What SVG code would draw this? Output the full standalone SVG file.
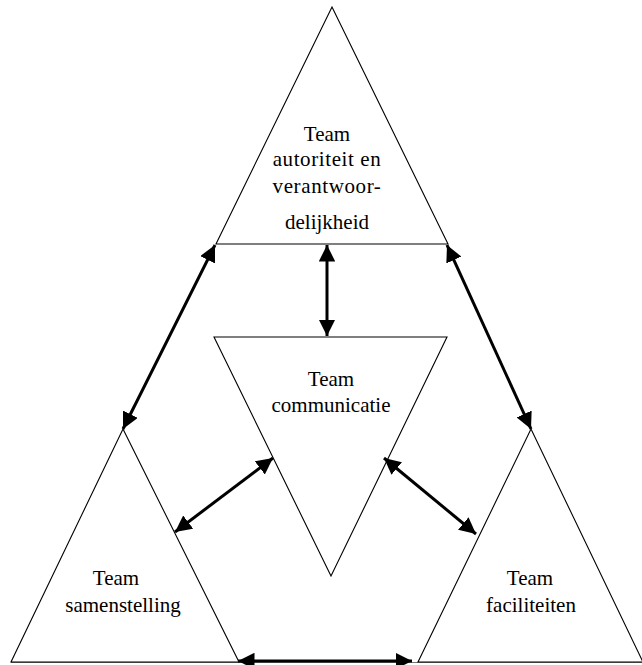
<svg xmlns="http://www.w3.org/2000/svg" width="642" height="665" viewBox="0 0 642 665">
  <style>
    .tri { fill: none; stroke: #000; stroke-width: 1.1; }
    .base { fill: none; stroke: #777; stroke-width: 1.2; }
    .lbl { font-family: "Liberation Serif", "Times New Roman", serif; font-size: 21px; fill: #000; text-anchor: middle; }
    .link { stroke: #000; stroke-width: 3; fill: none; marker-start: url(#head); marker-end: url(#head); }
  </style>
  <defs>
    <marker id="head" viewBox="0 0 10 10" refX="10" refY="5" markerWidth="5.5" markerHeight="5.5" markerUnits="strokeWidth" orient="auto-start-reverse">
      <path d="M0,0 L10,5 L0,10 Z" fill="#000"/>
    </marker>
  </defs>
  <rect width="642" height="665" fill="#fff"/>

  <!-- ground line under the lower triangles -->
  <line class="base" x1="11" y1="662.5" x2="642" y2="662.5"/>

  <g id="team-autoriteit">
    <polygon class="tri" points="332,7 448,244 216,244"/>
    <text class="lbl" x="327" y="141">Team</text>
    <text class="lbl" x="327" y="166" letter-spacing="0.6">autoriteit en</text>
    <text class="lbl" x="327" y="193" letter-spacing="0.6">verantwoor-</text>
    <text class="lbl" x="327" y="229">delijkheid</text>
  </g>

  <g id="team-communicatie">
    <polygon class="tri" points="214,337 447,337 331,576"/>
    <text class="lbl" x="331" y="386">Team</text>
    <text class="lbl" x="331" y="412">communicatie</text>
  </g>

  <g id="team-samenstelling">
    <polygon class="tri" points="123,429 239,662 11,662"/>
    <text class="lbl" x="116" y="585">Team</text>
    <text class="lbl" x="123" y="612">samenstelling</text>
  </g>

  <g id="team-faciliteiten">
    <polygon class="tri" points="531,429 643,662 418,662"/>
    <text class="lbl" x="530" y="585">Team</text>
    <text class="lbl" x="531" y="612">faciliteiten</text>
  </g>

  <g id="connectors">
    <line class="link" x1="215" y1="245" x2="123" y2="429"/>
    <line class="link" x1="447" y1="245" x2="531" y2="429"/>
    <line class="link" x1="327" y1="245" x2="327" y2="336"/>
    <line class="link" x1="273" y1="458" x2="175" y2="532"/>
    <line class="link" x1="384" y1="458" x2="476" y2="534"/>
    <line class="link" x1="238" y1="661" x2="412" y2="661"/>
  </g>
</svg>
